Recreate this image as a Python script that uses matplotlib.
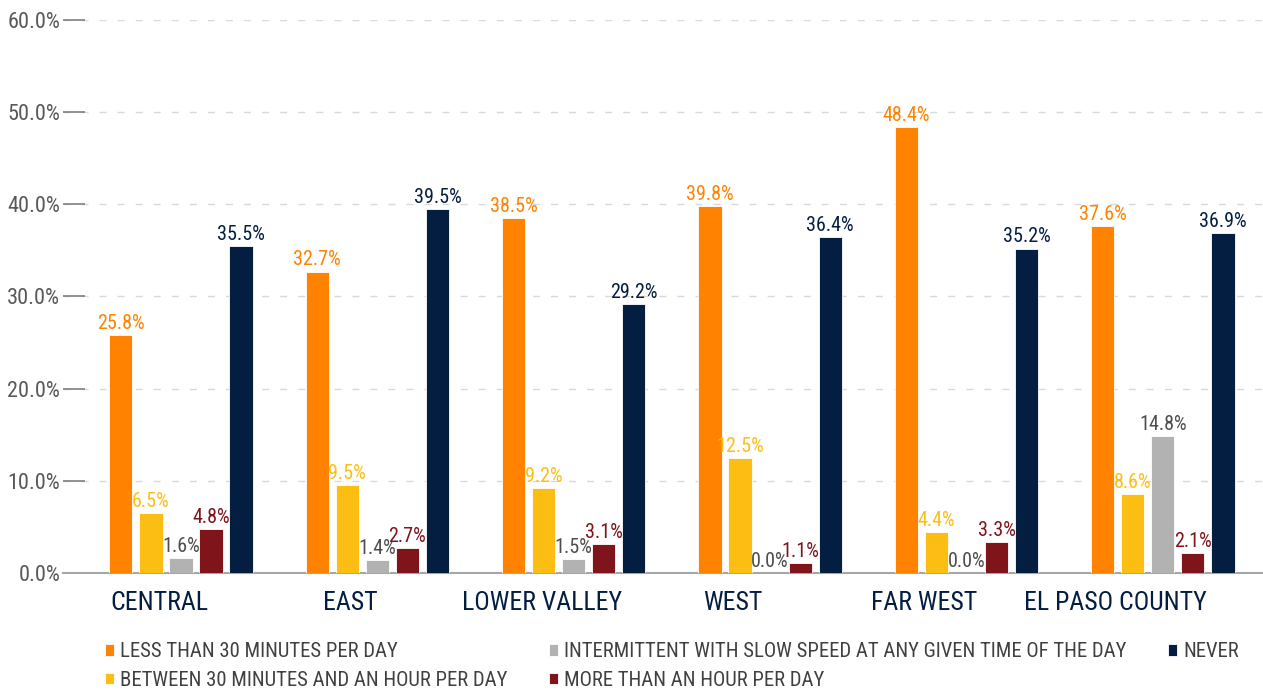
import matplotlib
matplotlib.use("Agg")
import matplotlib.pyplot as plt
from matplotlib import font_manager
import numpy as np

categories = ["CENTRAL", "EAST", "LOWER VALLEY", "WEST", "FAR WEST", "EL PASO COUNTY"]
series_names = [
    "LESS THAN 30 MINUTES PER DAY",
    "BETWEEN 30 MINUTES AND AN HOUR PER DAY",
    "INTERMITTENT WITH SLOW SPEED AT ANY GIVEN TIME OF THE DAY",
    "MORE THAN AN HOUR PER DAY",
    "NEVER",
]
less_30 = [25.8, 32.7, 38.5, 39.8, 48.4, 37.6]
between_30_60 = [6.5, 9.5, 9.2, 12.5, 4.4, 8.6]
intermittent = [1.6, 1.4, 1.5, 0.0, 0.0, 14.8]
more_hour = [4.8, 2.7, 3.1, 1.1, 3.3, 2.1]
never = [35.5, 39.5, 29.2, 36.4, 35.2, 36.9]
y_ticks = [0, 10, 20, 30, 40, 50, 60]

bar_colors = ["#FF8200", "#FDBE14", "#B2B2B2", "#7F141B", "#041E42"]
label_colors = ["#FF8200", "#FDBE14", "#4D4D4D", "#7F141B", "#041E42"]

available = {f.name for f in font_manager.fontManager.ttflist}
fam = "Roboto"
for cand in ["Roboto Condensed", "Liberation Sans Narrow", "Roboto"]:
    if cand in available:
        fam = cand
        break
plt.rcParams["font.family"] = [fam, "DejaVu Sans"]

fig = plt.figure(figsize=(12.63, 6.91), dpi=100)
ax = fig.add_axes([0.050, 0.171, 0.950, 0.800])

data = [less_30, between_30_60, intermittent, more_hour, never]
x = np.arange(len(categories))
pitch = 0.153
width = 0.118
for i, (vals, name) in enumerate(zip(data, series_names)):
    pos = x + (i - 2) * pitch
    ax.bar(pos, vals, width, color=bar_colors[i], label=name,
           edgecolor="white", linewidth=0.6, zorder=3)
    for p, v in zip(pos, vals):
        ax.annotate(f"{v:.1f}%", (p, v), xytext=(0, 1.5), textcoords="offset points",
                    ha="center", va="bottom", fontsize=14.5, color=label_colors[i])

ax.set_xlim(-0.60, 5.51)
ax.set_ylim(0, 60)
ax.set_yticks(y_ticks)
ax.set_yticklabels([f"{t:.1f}%" for t in y_ticks], fontsize=16, color="#595959")
ax.tick_params(axis="y", direction="in", length=16, width=1.2, color="#7F7F7F", pad=2)
ax.set_xticks(x - 0.11 - 0.026 * x)
ax.set_xticklabels(categories, fontsize=18.5, color="#041E42")
ax.tick_params(axis="x", length=0, pad=13)
ax.yaxis.grid(True, linestyle=(0, (5, 8)), color="#D9D9D9", linewidth=1, zorder=0)
for s in ["top", "right", "left"]:
    ax.spines[s].set_visible(False)
ax.spines["bottom"].set_color("#A6A6A6")
ax.spines["bottom"].set_linewidth(1.5)

leg = fig.legend(loc="lower left", bbox_to_anchor=(0.073, -0.016), ncol=3, frameon=False,
                 fontsize=14.9, handlelength=0.45, handleheight=0.45, handletextpad=0.3,
                 columnspacing=2.0, labelspacing=0.45, borderaxespad=0.2)
for t in leg.get_texts():
    t.set_color("#404040")

fig.savefig("out.png", dpi=100)
